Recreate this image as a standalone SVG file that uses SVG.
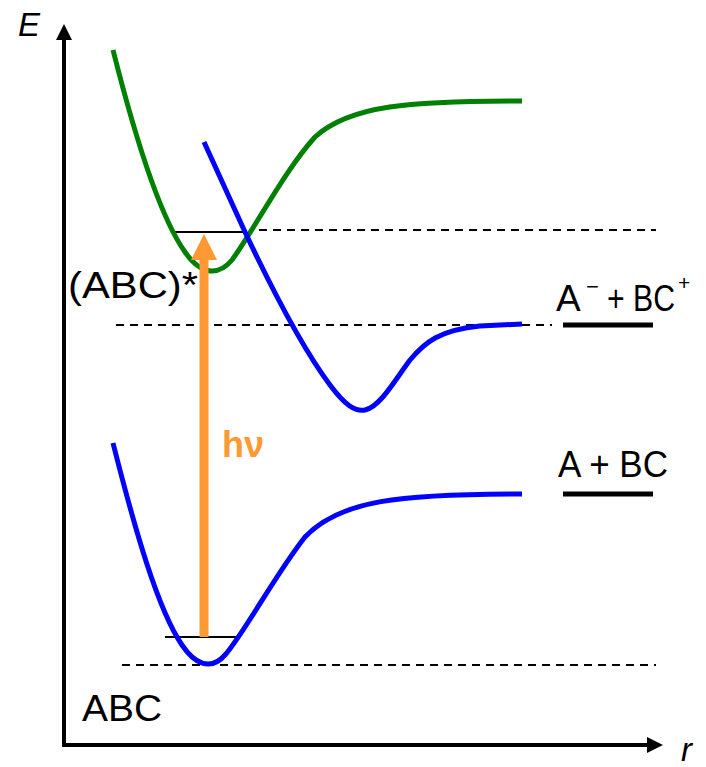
<svg xmlns="http://www.w3.org/2000/svg" width="706" height="767" viewBox="0 0 706 767">
<style>
.t{font-family:"Liberation Sans","Open Sans",sans-serif;fill:#000}
.ax{stroke:#000;stroke-width:4;fill:none}
.dash{stroke:#000;stroke-width:1.8;stroke-dasharray:8,6;fill:none}
.lvl{stroke:#000;stroke-width:2;fill:none}
.bar{stroke:#000;stroke-width:5;fill:none}
.curve{fill:none;stroke-width:5;stroke-linecap:butt}
</style>
<rect width="706" height="767" fill="#fff"/>
<g id="axes">
<line class="ax" x1="64" y1="747" x2="64" y2="38"/>
<polygon points="64,24 56,40 72,40" fill="#000"/>
<line class="ax" x1="62" y1="745" x2="648" y2="745"/>
<polygon points="663,745 647,737 647,753" fill="#000"/>
<text class="t" x="18" y="36" font-size="33" font-style="italic">E</text>
<text class="t" x="681" y="761" font-size="33" font-style="italic">r</text>
</g>
<g id="connectors">
<line class="dash" x1="259" y1="230" x2="656" y2="230"/>
<line class="dash" x1="116" y1="325" x2="552" y2="325"/>
<line class="dash" x1="122" y1="665" x2="656" y2="665"/>
<line class="lvl" x1="173" y1="232" x2="246" y2="232"/>
<line class="lvl" x1="165" y1="637" x2="240" y2="637"/>
</g>
<g id="excited">
<path class="curve" stroke="#008000" d="M113,50 C135,137 160,217 185,252 C197,270 215,280 232,260 C255,228 285,170 315,137 C350,105 410,101 522,101"/>
</g>
<g id="ionpair">
<path class="curve" stroke="#0000FF" d="M204,142 L245,232 C270,285 300,345 330,385 C345,405 355,412 365,410 C380,407 395,380 410,360 C425,342 440,330 480,326 L522,324"/>
</g>
<g id="ground">
<path class="curve" stroke="#0000FF" d="M113,443 C135,530 158,610 182,645 C194,663 210,672 225,655 C243,635 275,575 305,537 C340,500 400,494 522,494"/>
</g>
<g id="photon">
<rect x="199.5" y="258" width="9" height="379" fill="#FF9933"/>
<polygon points="204,234 191,260 217,260" fill="#FF9933"/>
<text x="222" y="457" font-family="'Liberation Sans','Open Sans',sans-serif" font-size="36" font-weight="bold" fill="#FF9933">hν</text>
</g>
<g id="labels">
<text class="t" x="68" y="298" font-size="37" textLength="130" lengthAdjust="spacingAndGlyphs">(ABC)*</text>
<text class="t" x="82" y="721" font-size="37" textLength="80" lengthAdjust="spacingAndGlyphs">ABC</text>
<text class="t" x="556" y="311" font-size="37">A</text>
<text class="t" x="586" y="294" font-size="22">−</text>
<text class="t" x="607" y="311" font-size="37" textLength="68" lengthAdjust="spacingAndGlyphs">+ BC</text>
<text class="t" x="678" y="290" font-size="21">+</text>
<line class="bar" x1="563" y1="325" x2="653" y2="325"/>
<text class="t" x="558" y="477" font-size="37" textLength="110" lengthAdjust="spacingAndGlyphs">A + BC</text>
<line class="bar" x1="563" y1="494" x2="653" y2="494"/>
</g>
</svg>
